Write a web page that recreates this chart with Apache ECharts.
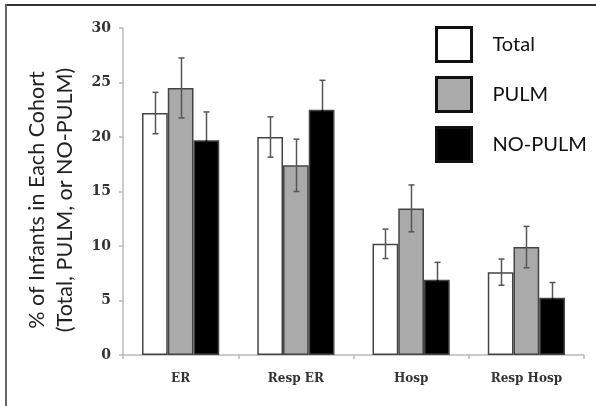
<!DOCTYPE html>
<html>
<head>
<meta charset="utf-8">
<script src="https://cdn.jsdelivr.net/npm/echarts@6/dist/echarts.min.js"></script>
<style>
html,body{margin:0;padding:0;background:#fff;}
#c{width:596px;height:406px;}
</style>
</head>
<body>
<div id="c"></div>
<script>
const categories = ['ER', 'Resp ER', 'Hosp', 'Resp Hosp'];
const seriesNames = ['Total', 'PULM', 'NO-PULM'];
const totalValues = [22.2, 20.0, 10.2, 7.6];
const pulmValues = [24.5, 17.4, 13.45, 9.9];
const noPulmValues = [19.7, 22.5, 6.9, 5.25];
const totalErrors = [1.9, 1.85, 1.35, 1.2];
const pulmErrors = [2.75, 2.4, 2.15, 1.9];
const noPulmErrors = [2.6, 2.7, 1.6, 1.4];
const yTicks = { min: 0, max: 30, interval: 5 };
const yTitleLines = ['% of Infants in Each Cohort', '(Total, PULM, or NO-PULM)'];

const values = [totalValues, pulmValues, noPulmValues];
const errors = [totalErrors, pulmErrors, noPulmErrors];
const fills = ['#ffffff', '#aaaaaa', '#000000'];
const CAT_GAP = 0.33;

const chart = echarts.init(document.getElementById('c'), null, { renderer: 'canvas' });

const barSeries = seriesNames.map((name, i) => ({
  name: name,
  type: 'bar',
  data: values[i],
  barGap: '0%',
  barCategoryGap: (CAT_GAP * 100) + '%',
  itemStyle: { color: fills[i], borderColor: '#444', borderWidth: 1.5 },
  emphasis: { disabled: true },
  z: 2
}));

const errSeries = seriesNames.map((name, i) => ({
  name: name + ' err',
  type: 'custom',
  z: 3,
  data: values[i].map((v, k) => [k, v, errors[i][k]]),
  renderItem: function (params, api) {
    const k = api.value(0), v = api.value(1), e = api.value(2);
    const bw = api.size([1, 0])[0] * (1 - CAT_GAP) / 3;
    const center = api.coord([k, v]);
    const x = Math.round(center[0] + (i - 1) * bw) + 0.5;
    const yTop = api.coord([k, v + e])[1];
    const yMid = center[1];
    const yBot = api.coord([k, v - e])[1];
    const cap = 3;
    const col = '#555';
    const lowCol = i === 2 ? '#000' : col;
    const st = { stroke: col, lineWidth: 1.5 };
    return {
      type: 'group',
      children: [
        { type: 'line', shape: { x1: x, y1: yTop, x2: x, y2: yMid }, style: st },
        { type: 'line', shape: { x1: x - cap, y1: yTop, x2: x + cap, y2: yTop }, style: st },
        { type: 'line', shape: { x1: x, y1: yMid, x2: x, y2: yBot }, style: { stroke: lowCol, lineWidth: 1.5 } },
        { type: 'line', shape: { x1: x - cap, y1: yBot, x2: x + cap, y2: yBot }, style: { stroke: lowCol, lineWidth: 1.5 } }
      ]
    };
  }
}));

chart.setOption({
  animation: false,
  backgroundColor: '#fff',
  grid: { left: 123, right: 12, top: 28, bottom: 51, containLabel: false },
  legend: {
    data: seriesNames,
    orient: 'vertical',
    left: 435,
    top: 26,
    padding: 0,
    itemWidth: 35,
    itemHeight: 34,
    itemGap: 13,
    icon: 'rect',
    itemStyle: { borderColor: '#111', borderWidth: 3 },
    textStyle: { fontFamily: 'Lato', fontSize: 20, color: '#111', padding: [0, 0, 0, 16] },
    selectedMode: false
  },
  xAxis: {
    type: 'category',
    data: categories,
    axisLine: { lineStyle: { color: '#bbb', width: 1.5 } },
    axisTick: { show: true, length: 4, lineStyle: { color: '#bbb', width: 1.5 } },
    axisLabel: { fontFamily: 'DejaVu Serif', fontWeight: 'bold', fontSize: 12, color: '#333', margin: 18 },
    splitLine: { show: false }
  },
  yAxis: {
    type: 'value',
    min: yTicks.min,
    max: yTicks.max,
    interval: yTicks.interval,
    axisLine: { show: true, lineStyle: { color: '#bbb', width: 1.5 } },
    axisTick: { show: true, length: 4, lineStyle: { color: '#bbb', width: 1.5 } },
    axisLabel: { fontFamily: 'DejaVu Serif', fontWeight: 'bold', fontSize: 14, color: '#333', margin: 12 },
    splitLine: { show: false }
  },
  graphic: [
    { type: 'line', shape: { x1: 6, y1: 5, x2: 596, y2: 5 }, style: { stroke: '#333', lineWidth: 2 } },
    { type: 'line', shape: { x1: 6, y1: 4, x2: 6, y2: 406 }, style: { stroke: '#666', lineWidth: 2 } },
    { type: 'text', x: 37, y: 200, rotation: Math.PI / 2,
      style: { text: yTitleLines[0], font: '21.5px Lato', fill: '#222', textAlign: 'center', textVerticalAlign: 'middle' } },
    { type: 'text', x: 65, y: 200, rotation: Math.PI / 2,
      style: { text: yTitleLines[1], font: '21.5px Lato', fill: '#222', textAlign: 'center', textVerticalAlign: 'middle' } }
  ],
  series: barSeries.concat(errSeries)
});
</script>
</body>
</html>
